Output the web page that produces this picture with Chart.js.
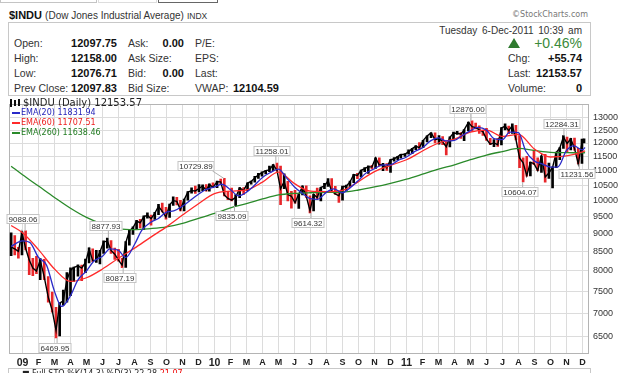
<!DOCTYPE html>
<html>
<head>
<meta charset="utf-8">
<title>$INDU</title>
<script src="https://cdn.jsdelivr.net/npm/chart.js@4.4.1/dist/chart.umd.min.js"></script>
<style>
  body { margin: 0; width: 640px; height: 373px; overflow: hidden; background: #fff;
         position: relative; font-family: "Liberation Sans", Arial, sans-serif; color: #333; }
  .t { position: absolute; white-space: nowrap; line-height: 14px; }
  .lbl { font-size: 10.5px; color: #333; }
  .val { font-size: 11px; font-weight: bold; color: #111; }
  .leg { position: absolute; white-space: nowrap; font-family: "DejaVu Sans", sans-serif; line-height: 10px; }
  .dash { position: absolute; width: 8px; height: 2px; }
</style>
</head>
<body>
<!-- bottoms of the page buttons, cut off at the top edge -->
<div style="position:absolute;left:0;top:-10px;width:95px;height:11px;border:1px solid #c4c4c4"></div>
<div style="position:absolute;left:98px;top:-10px;width:57px;height:11px;border:1px solid #ddd"></div>
<div style="position:absolute;left:158px;top:-10px;width:58px;height:11px;border:1px solid #666"></div>

<div class="t" style="left:9px;top:8px;font-size:11px;color:#111"><b>$INDU</b> <span style="font-size:10px;color:#333">(Dow Jones Industrial Average)</span> <span style="font-size:8.5px;color:#333">INDX</span></div>
<div class="t" style="right:52px;top:8px;font-family:'DejaVu Sans';font-size:8px;color:#777">©StockCharts.com</div>

<!-- quote box -->
<div style="position:absolute;left:8px;top:22px;width:581px;height:72px;border:1px solid #c8c8c8"></div>
<div class="t lbl" style="left:14px;top:36px">Open:</div>
<div class="t lbl" style="left:14px;top:51px">High:</div>
<div class="t lbl" style="left:14px;top:66px">Low:</div>
<div class="t lbl" style="left:14px;top:81px">Prev Close:</div>
<div class="t val" style="right:523px;top:36px">12097.75</div>
<div class="t val" style="right:523px;top:51px">12158.00</div>
<div class="t val" style="right:523px;top:66px">12076.71</div>
<div class="t val" style="right:523px;top:81px">12097.83</div>
<div class="t lbl" style="left:128px;top:36px">Ask:</div>
<div class="t lbl" style="left:128px;top:51px">Ask Size:</div>
<div class="t lbl" style="left:128px;top:66px">Bid:</div>
<div class="t lbl" style="left:128px;top:81px">Bid Size:</div>
<div class="t val" style="right:456px;top:36px">0.00</div>
<div class="t val" style="right:456px;top:66px">0.00</div>
<div class="t lbl" style="left:195px;top:36px">P/E:</div>
<div class="t lbl" style="left:195px;top:51px">EPS:</div>
<div class="t lbl" style="left:195px;top:66px">Last:</div>
<div class="t lbl" style="left:195px;top:81px">VWAP:</div>
<div class="t val" style="left:233px;top:81px">12104.59</div>

<div class="t lbl" style="right:58px;top:24px;font-size:10px;word-spacing:2px">Tuesday 6-Dec-2011 10:39 am</div>
<div style="position:absolute;left:508px;top:38px;width:0;height:0;border-left:6px solid transparent;border-right:6px solid transparent;border-bottom:10px solid #2f7a2f"></div>
<div class="t" style="right:58px;top:36px;font-size:14px;color:#3a8a3a">+0.46%</div>
<div class="t lbl" style="left:508px;top:51px">Chg:</div>
<div class="t lbl" style="left:508px;top:66px">Last:</div>
<div class="t lbl" style="left:508px;top:81px">Volume:</div>
<div class="t val" style="right:58px;top:51px">+55.74</div>
<div class="t val" style="right:58px;top:66px">12153.57</div>
<div class="t val" style="right:58px;top:81px">0</div>

<div style="position:absolute;left:0;top:95px;width:640px;height:278px">
  <canvas id="chart" width="640" height="278"></canvas>
</div>

<!-- chart legend -->
<div style="position:absolute;left:10px;top:99px;width:2px;height:8px;background:#111"></div>
<div style="position:absolute;left:14px;top:100px;width:2px;height:6px;background:#111"></div>
<div style="position:absolute;left:18px;top:99px;width:2px;height:7px;background:#111"></div>
<div class="leg" style="left:23px;top:98px;font-size:10px;color:#222">$INDU (Daily) 12153.57</div>
<div class="dash" style="left:12px;top:112px;background:#2a2ac8"></div>
<div class="leg" style="left:21px;top:108px;font-size:8px;color:#2222b8">EMA(20) 11831.94</div>
<div class="dash" style="left:12px;top:122px;background:#ff2a2a"></div>
<div class="leg" style="left:21px;top:118px;font-size:8px;color:#ee1c1c">EMA(60) 11707.51</div>
<div class="dash" style="left:12px;top:132px;background:#2a8a2a"></div>
<div class="leg" style="left:21px;top:128px;font-size:8px;color:#1f7a1f">EMA(260) 11638.46</div>

<!-- next panel, cut off at the bottom -->
<div style="position:absolute;left:8px;top:368px;width:581px;height:20px;border:1px solid #c8c8c8"></div>
<div class="leg" style="left:22px;top:369px;font-size:8px;color:#222">■ Full STO %K(14,3) %D(3) 22.28 <span style="color:#e00">21.07</span></div>

<script>
// weekly price bars: week ending date, high, low, close
var weekDates = ['2008-12-12','2008-12-19','2008-12-26',
  '2009-01-02','2009-01-09','2009-01-16','2009-01-23','2009-01-30','2009-02-06','2009-02-13','2009-02-20','2009-02-27',
  '2009-03-06','2009-03-13','2009-03-20','2009-03-27','2009-04-03','2009-04-09','2009-04-17','2009-04-24','2009-05-01',
  '2009-05-08','2009-05-15','2009-05-22','2009-05-29','2009-06-05','2009-06-12','2009-06-19','2009-06-26','2009-07-03',
  '2009-07-10','2009-07-17','2009-07-24','2009-07-31','2009-08-07','2009-08-14','2009-08-21','2009-08-28','2009-09-04',
  '2009-09-11','2009-09-18','2009-09-25','2009-10-02','2009-10-09','2009-10-16','2009-10-23','2009-10-30','2009-11-06',
  '2009-11-13','2009-11-20','2009-11-27','2009-12-04','2009-12-11','2009-12-18','2009-12-24','2009-12-31',
  '2010-01-08','2010-01-15','2010-01-22','2010-01-29','2010-02-05','2010-02-12','2010-02-19','2010-02-26','2010-03-05',
  '2010-03-12','2010-03-19','2010-03-26','2010-04-02','2010-04-09','2010-04-16','2010-04-23','2010-04-30','2010-05-07',
  '2010-05-14','2010-05-21','2010-05-28','2010-06-04','2010-06-11','2010-06-18','2010-06-25','2010-07-02','2010-07-09',
  '2010-07-16','2010-07-23','2010-07-30','2010-08-06','2010-08-13','2010-08-20','2010-08-27','2010-09-03','2010-09-10',
  '2010-09-17','2010-09-24','2010-10-01','2010-10-08','2010-10-15','2010-10-22','2010-10-29','2010-11-05','2010-11-12',
  '2010-11-19','2010-11-26','2010-12-03','2010-12-10','2010-12-17','2010-12-23','2010-12-31',
  '2011-01-07','2011-01-14','2011-01-21','2011-01-28','2011-02-04','2011-02-11','2011-02-18','2011-02-25','2011-03-04',
  '2011-03-11','2011-03-18','2011-03-25','2011-04-01','2011-04-08','2011-04-15','2011-04-21','2011-04-29','2011-05-06',
  '2011-05-13','2011-05-20','2011-05-27','2011-06-03','2011-06-10','2011-06-17','2011-06-24','2011-07-01','2011-07-08',
  '2011-07-15','2011-07-22','2011-07-29','2011-08-05','2011-08-12','2011-08-19','2011-08-26','2011-09-02','2011-09-09',
  '2011-09-16','2011-09-23','2011-09-30','2011-10-07','2011-10-14','2011-10-21','2011-10-28','2011-11-04','2011-11-11',
  '2011-11-18','2011-11-25','2011-12-02','2011-12-06'];

var weekHigh = [9030, 8950, 8620,
  9060, 9088, 8620, 8330, 8380, 8320, 8300, 7860, 7480, 7130, 7230, 7530, 7960, 8080, 8100, 8160, 8150, 8310,
  8610, 8580, 8540, 8540, 8800, 8878, 8810, 8600, 8570, 8330, 8780, 9100, 9200, 9390, 9420, 9530, 9620, 9550,
  9630, 9880, 9920, 9790, 9890, 10120, 10100, 10010, 10050, 10290, 10410, 10470, 10520, 10510, 10520, 10540, 10580,
  10640, 10700, 10730, 10300, 10400, 10190, 10420, 10420, 10580, 10640, 10800, 10900, 10950, 11000, 11150, 11210,
  11258, 11150, 10880, 10630, 10300, 10330, 10220, 10480, 10480, 10150, 10200, 10400, 10430, 10560, 10720, 10720,
  10460, 10300, 10470, 10500, 10640, 10870, 10900, 11010, 11100, 11160, 11180, 11450, 11450, 11250, 11240, 11390,
  11460, 11500, 11580, 11600,
  11740, 11800, 11900, 12020, 12100, 12280, 12390, 12390, 12290, 12250, 12040, 12240, 12420, 12450, 12400, 12520,
  12820, 12876, 12780, 12670, 12500, 12570, 12180, 12130, 12180, 12600, 12750, 12660, 12750, 12690, 12290, 11450,
  11500, 11300, 11720, 11450, 11520, 11580, 11260, 11130, 11660, 11830, 12284, 12230, 12180, 12190, 11800, 12150, 12160];

var weekLow = [8400, 8420, 8330,
  8420, 8550, 7910, 7880, 7930, 7780, 7780, 7250, 7020, 6470, 6510, 7180, 7250, 7400, 7740, 7870, 7760, 7960,
  8210, 8240, 8220, 8180, 8460, 8600, 8460, 8300, 8250, 8087, 8090, 8680, 8980, 9150, 9170, 9120, 9460, 9250,
  9420, 9560, 9650, 9430, 9480, 9850, 9860, 9680, 9680, 10010, 10240, 10230, 10280, 10320, 10300, 10300, 10420,
  10420, 10550, 10150, 10030, 9990, 9835, 10090, 10200, 10320, 10530, 10600, 10730, 10800, 10880, 10960, 10990,
  10980, 9870, 10380, 9990, 9760, 9920, 9750, 10180, 10100, 9614, 9680, 10060, 9990, 10380, 10460, 10280,
  10200, 9940, 10010, 10330, 10450, 10580, 10720, 10780, 10960, 10900, 11050, 11070, 11150, 10990, 11000, 10930,
  11330, 11370, 11440, 11500,
  11580, 11600, 11750, 11790, 11820, 12040, 12200, 12000, 11960, 11940, 11555, 11850, 12160, 12330, 12180, 12090,
  12480, 12450, 12550, 12370, 12290, 12100, 11940, 11860, 11870, 11930, 12510, 12360, 12370, 12120, 11100, 10604,
  10800, 10810, 11200, 10990, 10930, 10600, 10730, 10405, 11100, 11380, 11800, 11650, 11740, 11730, 11232, 11250, 12000];

var weekClose = [8629, 8579, 8515,
  9034, 8599, 8281, 8077, 8000, 8280, 7850, 7366, 7063, 6627, 7224, 7278, 7776, 8018, 8083, 8131, 8076, 8212,
  8575, 8268, 8277, 8500, 8764, 8799, 8539, 8438, 8280, 8146, 8743, 9093, 9172, 9370, 9321, 9505, 9544, 9441,
  9605, 9820, 9665, 9488, 9865, 9996, 9972, 9713, 10023, 10271, 10318, 10310, 10388, 10471, 10329, 10520, 10428,
  10618, 10610, 10173, 10067, 10012, 10099, 10403, 10325, 10567, 10625, 10742, 10850, 10927, 10997, 11019, 11204,
  11009, 10380, 10620, 10193, 10137, 9932, 10211, 10450, 10144, 9686, 10198, 10098, 10425, 10466, 10654, 10303,
  10214, 10150, 10448, 10463, 10607, 10861, 10829, 11006, 11063, 11133, 11118, 11445, 11193, 11204, 11092, 11382,
  11410, 11492, 11573, 11578,
  11675, 11787, 11872, 11824, 12092, 12273, 12391, 12130, 12170, 12044, 11859, 12220, 12377, 12380, 12342, 12506,
  12811, 12639, 12596, 12512, 12441, 12151, 11952, 12004, 11934, 12582, 12657, 12480, 12681, 12143, 11445, 11269,
  10818, 11285, 11240, 10993, 11510, 10772, 10913, 11104, 11644, 11809, 12231, 11983, 12154, 11796, 11232, 12019, 12153];

// moving averages, once a month
var emaDates = ['2008-12-10',
  '2009-01-01','2009-02-01','2009-03-01','2009-04-01','2009-05-01','2009-06-01','2009-07-01','2009-08-01','2009-09-01','2009-10-01','2009-11-01','2009-12-01',
  '2010-01-01','2010-02-01','2010-03-01','2010-04-01','2010-05-01','2010-06-01','2010-07-01','2010-08-01','2010-09-01','2010-10-01','2010-11-01','2010-12-01',
  '2011-01-01','2011-02-01','2011-03-01','2011-04-01','2011-05-01','2011-06-01','2011-07-01','2011-08-01','2011-09-01','2011-10-01','2011-11-01','2011-12-01',
  '2011-12-06'];
var ema60 = [9240,
  9030, 8560, 8050, 7740, 7830, 8050, 8330, 8600, 8900, 9200, 9550, 9900,
  10220, 10300, 10340, 10600, 10940, 10550, 10300, 10290, 10330, 10620, 10960, 11180,
  11380, 11700, 12000, 12150, 12420, 12500, 12250, 12330, 11770, 11480, 11520, 11670,
  11707];
var ema260 = [11150,
  10850, 10470, 10100, 9760, 9480, 9280, 9150, 9120, 9150, 9200, 9300, 9450,
  9600, 9770, 9900, 10050, 10180, 10230, 10250, 10260, 10270, 10340, 10440, 10560,
  10700, 10870, 11050, 11200, 11380, 11550, 11680, 11800, 11720, 11650, 11640, 11630,
  11638];

// the 20-day average, twice a month
var ema20Dates = ['2008-12-10',
  '2009-01-01','2009-01-15','2009-02-01','2009-02-15','2009-03-01','2009-03-15','2009-04-01','2009-04-15','2009-05-01','2009-05-15','2009-06-01','2009-06-15',
  '2009-07-01','2009-07-15','2009-08-01','2009-08-15','2009-09-01','2009-09-15','2009-10-01','2009-10-15','2009-11-01','2009-11-15','2009-12-01','2009-12-15',
  '2010-01-01','2010-01-15','2010-02-01','2010-02-15','2010-03-01','2010-03-15','2010-04-01','2010-04-15','2010-05-01','2010-05-15','2010-06-01','2010-06-15',
  '2010-07-01','2010-07-15','2010-08-01','2010-08-15','2010-09-01','2010-09-15','2010-10-01','2010-10-15','2010-11-01','2010-11-15','2010-12-01','2010-12-15',
  '2011-01-01','2011-01-15','2011-02-01','2011-02-15','2011-03-01','2011-03-15','2011-04-01','2011-04-15','2011-05-01','2011-05-15','2011-06-01','2011-06-15',
  '2011-07-01','2011-07-15','2011-08-01','2011-08-15','2011-09-01','2011-09-15','2011-10-01','2011-10-15','2011-11-01','2011-11-15','2011-12-01',
  '2011-12-06'];
var ema20 = [8650,
  8800, 8760, 8350, 8150, 7500, 7150, 7400, 7780, 8000, 8250, 8380, 8580,
  8540, 8350, 8700, 9100, 9330, 9440, 9640, 9680, 9820, 10000, 10200, 10350,
  10440, 10530, 10350, 10150, 10270, 10470, 10760, 10920, 11050, 10780, 10440, 10240,
  10060, 10040, 10270, 10380, 10250, 10410, 10660, 10900, 11060, 11190, 11200, 11350,
  11480, 11660, 11820, 12080, 12200, 12080, 12100, 12280, 12480, 12610, 12500, 12170,
  12130, 12420, 12400, 11700, 11330, 11230, 11120, 11120, 11720, 11890, 11740,
  11832];

var yTicks = [6500, 7000, 7500, 8000, 8500, 9000, 9500, 10000, 10500, 11000, 11500, 12000, 12500, 13000];
var monthLabels = ['09','F','M','A','M','J','J','A','S','O','N','D',
                   '10','F','M','A','M','J','J','A','S','O','N','D',
                   '11','F','M','A','M','J','J','A','S','O','N','D'];

// marked highs and lows
var noteDates = ['2009-01-06','2009-03-06','2009-06-12','2009-07-10','2010-01-19','2010-02-08',
                 '2010-04-26','2010-07-02','2011-05-02','2011-08-09','2011-10-27','2011-11-25'];
var noteValues = [9088.06, 6469.95, 8877.93, 8087.19, 10729.89, 9835.09,
                  11258.01, 9614.32, 12876.00, 10604.07, 12284.31, 11231.56];
// placement of the labels: -1 above, 1 below, and sideways shift in px
var noteSide = [-1, 1, -1, 1, -1, 1, -1, 1, -1, 1, -1, 1];
var noteShift = [-2, -2, -2, -3, -28, -3, -4, -3, -3, -3, -2, -2];

// months since Jan 2009, as a fraction
function toMonth(s, back) {
  var p = s.split('-').map(Number);
  var d = new Date(p[0], p[1] - 1, p[2] - (back || 0));
  var dim = new Date(d.getFullYear(), d.getMonth() + 1, 0).getDate();
  return (d.getFullYear() - 2009) * 12 + d.getMonth() + (d.getDate() - 1) / dim;
}

var barData = weekDates.map(function (s, i) {
  return { x: toMonth(s, 2), y: [weekLow[i], weekHigh[i]] };
});
var closeData = weekDates.map(function (s, i) {
  return { x: toMonth(s, 2), y: weekClose[i] };
});
var barColors = weekClose.map(function (c, i) {
  return (i > 0 && c < weekClose[i - 1]) ? '#e8262a' : '#000';
});
function line(dates, vals) {
  return dates.map(function (s, i) { return { x: toMonth(s), y: vals[i] }; });
}

var framePlugin = {
  id: 'frame',
  beforeDatasetsDraw: function (chart) {
    var a = chart.chartArea, c = chart.ctx;
    c.save();
    c.strokeStyle = '#b4b4b4';
    c.lineWidth = 1;
    c.strokeRect(Math.round(a.left) + 0.5, Math.round(a.top) + 0.5,
                 Math.round(a.right - a.left) - 1, Math.round(a.bottom - a.top) - 1);
    c.restore();
  }
};

var notePlugin = {
  id: 'notes',
  afterDatasetsDraw: function (chart) {
    var c = chart.ctx, xs = chart.scales.x, ys = chart.scales.y;
    c.save();
    c.font = '8px "Liberation Sans"';
    c.textAlign = 'center';
    c.textBaseline = 'middle';
    noteValues.forEach(function (v, i) {
      var px = xs.getPixelForValue(toMonth(noteDates[i]));
      var py = ys.getPixelForValue(v);
      var txt = v.toFixed(2);
      var w = Math.round(c.measureText(txt).width) + 4, h = 10;
      var cx = Math.round(px + noteShift[i]);
      var cy = Math.round(py + (noteSide[i] < 0 ? -12 : 10));
      var edge = noteSide[i] < 0 ? cy + h / 2 : cy - h / 2;
      c.strokeStyle = '#b0b0b0';
      c.lineWidth = 1;
      c.beginPath();
      c.moveTo(px, py);
      c.lineTo(Math.min(Math.max(px, cx - w / 2 + 2), cx + w / 2 - 2), edge);
      c.stroke();
      c.fillStyle = '#fff';
      c.fillRect(cx - w / 2, cy - h / 2, w, h);
      c.strokeStyle = '#c4c4c4';
      c.strokeRect(cx - w / 2 + 0.5, cy - h / 2 + 0.5, w - 1, h - 1);
      c.fillStyle = '#333';
      c.fillText(txt, cx, cy + 0.5);
    });
    c.restore();
  }
};

new Chart(document.getElementById('chart'), {
  type: 'bar',
  data: {
    datasets: [{
      type: 'line', label: 'EMA(20)', data: line(ema20Dates, ema20), order: 1,
      borderColor: '#2a2ac8', borderWidth: 1.3, pointRadius: 0, cubicInterpolationMode: 'monotone'
    }, {
      type: 'line', label: 'EMA(60)', data: line(emaDates, ema60), order: 2,
      borderColor: '#ff2a2a', borderWidth: 1.3, pointRadius: 0, cubicInterpolationMode: 'monotone'
    }, {
      type: 'line', label: 'EMA(260)', data: line(emaDates, ema260), order: 3,
      borderColor: '#2a8a2a', borderWidth: 1.3, pointRadius: 0, cubicInterpolationMode: 'monotone'
    }, {
      type: 'line', label: 'close', data: closeData, order: 4,
      borderColor: '#000', borderWidth: 1.4, pointRadius: 0, tension: 0
    }, {
      type: 'bar', label: '$INDU', data: barData, order: 5,
      backgroundColor: barColors, borderWidth: 0, barThickness: 2, borderSkipped: false
    }]
  },
  options: {
    responsive: false,
    animation: false,
    events: [],
    layout: { padding: { left: 9, top: 2, right: 0, bottom: 0 } },
    plugins: { legend: { display: false }, tooltip: { enabled: false } },
    scales: {
      x: {
        type: 'linear', min: -0.844, max: 35.406, offset: false,
        grid: { color: '#dcdcdc', offset: false, drawTicks: false },
        border: { display: false },
        afterBuildTicks: function (s) { s.ticks = monthLabels.map(function (m, i) { return { value: i }; }); },
        afterFit: function (s) { s.height = 19; },
        ticks: {
          autoSkip: false, maxRotation: 0, padding: 3, color: '#222',
          font: function (c) {
            return (c.tick && c.tick.value % 12 === 0)
              ? { family: 'Liberation Sans', size: 10.5, weight: 'bold' }
              : { family: 'Liberation Sans', size: 9, weight: 'bold' };
          },
          callback: function (v) { return monthLabels[v]; }
        }
      },
      y: {
        type: 'logarithmic', position: 'right', min: 6150, max: 13561, beginAtZero: false,
        grid: { color: '#dcdcdc', drawTicks: false },
        border: { display: false },
        afterBuildTicks: function (s) { s.ticks = yTicks.map(function (v) { return { value: v }; }); },
        afterFit: function (s) { s.width = 51; },
        ticks: {
          padding: 4, color: '#333',
          font: { family: 'Liberation Sans', size: 9 },
          callback: function (v) { return String(v); }
        }
      }
    }
  },
  plugins: [framePlugin, notePlugin]
});
</script>
</body>
</html>
